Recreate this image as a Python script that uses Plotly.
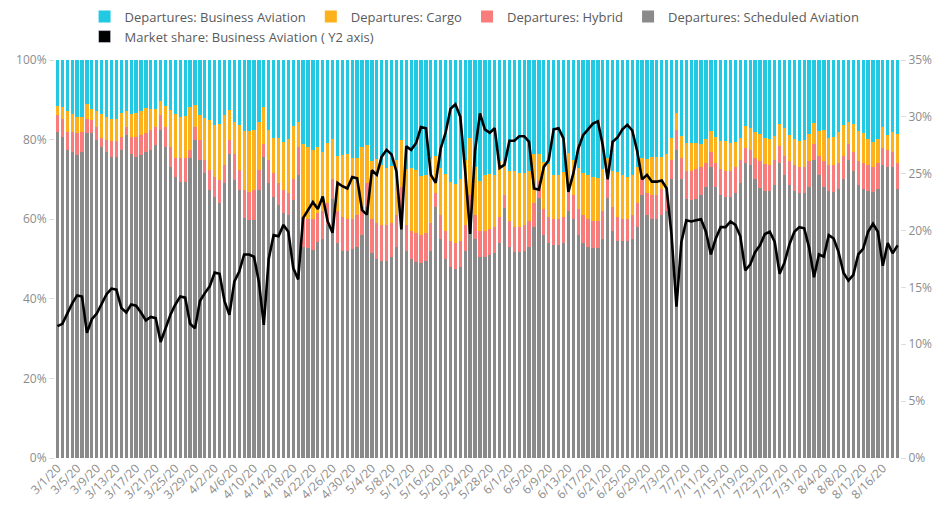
import pandas as pd
import plotly.graph_objects as go

# Daily categories: 3/1/2020 .. 8/19/2020
dates = pd.date_range("2020-03-01", "2020-08-19", freq="D")

# Departures share (%) per day
scheduled = [
    82.0, 80.7, 77.4, 77.0, 76.1, 77.0, 81.6, 81.6, 79.9, 78.2, 77.0, 75.7, 75.7, 77.4, 81.1, 76.5,
    75.7, 76.1, 77.0, 77.4, 78.6, 82.4, 78.2, 73.2, 70.7, 69.4, 69.4, 75.3, 79.9, 74.9, 71.5, 67.3,
    65.6, 64.0, 69.0, 76.5, 69.8, 67.3, 60.2, 59.8, 59.8, 67.3, 75.7, 69.0, 65.6, 63.6, 61.5, 61.0,
    64.8, 71.1, 53.1, 52.7, 52.3, 54.3, 55.0, 58.5, 65.0, 54.0, 52.0, 52.0, 52.5, 53.0, 56.0, 63.0,
    51.5, 50.0, 49.5, 49.5, 50.5, 53.0, 62.0, 52.0, 50.0, 49.3, 49.0, 49.5, 52.0, 63.0, 55.0, 50.0,
    48.0, 47.5, 48.0, 52.0, 60.2, 55.0, 50.5, 50.5, 51.0, 51.5, 54.0, 62.7, 53.0, 51.8, 51.8, 52.0,
    53.0, 58.0, 65.3, 56.0, 54.0, 53.5, 53.5, 54.0, 62.0, 60.0, 56.0, 54.0, 53.0, 52.7, 52.7, 55.0,
    65.3, 57.0, 54.5, 54.4, 54.4, 55.0, 58.0, 66.0, 61.0, 60.0, 60.0, 61.0, 62.0, 70.0, 77.4, 70.0,
    65.0, 64.8, 65.0, 66.0, 68.0, 73.2, 68.0, 66.0, 65.6, 65.6, 66.5, 69.0, 74.0, 73.6, 70.0, 67.8,
    67.0, 67.0, 68.5, 74.0, 71.0, 68.6, 67.0, 66.5, 66.5, 68.0, 75.0, 71.0, 68.0, 67.0, 66.8, 67.5,
    70.0, 75.0, 72.0, 68.5, 67.5, 67.0, 66.8, 67.5, 73.5, 73.0, 73.0, 67.5,
]
hybrid = [
    4.2, 4.6, 4.6, 5.0, 5.5, 5.0, 3.7, 3.3, 3.3, 2.3, 2.9, 4.0, 4.0, 3.3, 2.1, 4.2,
    5.0, 5.0, 4.6, 5.0, 4.6, 3.8, 5.0, 5.0, 4.6, 5.9, 5.9, 2.1, 3.3, 5.0, 3.4, 5.0,
    5.1, 5.8, 4.6, 3.4, 6.7, 5.0, 7.1, 7.1, 7.5, 5.0, 3.3, 5.9, 5.9, 5.4, 5.8, 5.5,
    5.2, 7.1, 7.5, 7.3, 7.7, 7.2, 7.0, 5.5, 5.0, 8.0, 8.5, 8.0, 7.5, 8.0, 7.0, 6.0,
    8.5, 9.0, 9.0, 9.0, 8.5, 8.0, 6.0, 6.5, 7.0, 7.2, 7.0, 7.0, 7.0, 3.5, 6.0, 7.0,
    6.5, 6.5, 6.5, 6.5, 5.8, 6.0, 6.5, 6.5, 6.5, 6.5, 6.5, 3.3, 6.5, 6.2, 6.2, 6.5,
    6.5, 6.0, 4.2, 6.5, 6.5, 6.5, 6.5, 6.5, 5.0, 6.0, 6.5, 7.0, 7.0, 6.8, 6.8, 7.0,
    4.7, 6.0, 6.0, 5.6, 5.6, 6.0, 6.0, 4.0, 5.5, 6.0, 6.0, 6.5, 6.0, 5.0, 5.0, 5.5,
    7.0, 7.2, 7.5, 7.0, 6.0, 3.8, 6.0, 6.5, 6.4, 6.4, 6.5, 6.0, 4.0, 3.9, 5.5, 6.7,
    6.8, 6.5, 6.5, 4.5, 5.0, 5.9, 6.5, 6.5, 6.5, 6.5, 4.0, 5.0, 6.5, 6.5, 6.7, 6.5,
    6.0, 4.0, 5.0, 6.0, 6.5, 6.5, 6.2, 6.5, 4.5, 4.5, 4.0, 6.5,
]
cargo = [
    2.2, 2.9, 5.3, 4.4, 4.1, 3.8, 3.7, 2.9, 4.1, 6.0, 5.7, 5.4, 5.5, 6.1, 4.0, 5.8,
    5.9, 6.1, 6.3, 5.2, 4.5, 3.6, 5.3, 9.2, 11.2, 10.5, 10.6, 10.8, 5.4, 6.3, 10.6, 12.6,
    13.0, 14.0, 12.6, 7.5, 8.0, 11.3, 14.8, 15.2, 15.0, 12.2, 9.3, 7.6, 8.9, 11.5, 12.2, 13.6,
    13.3, 6.1, 18.3, 18.2, 17.5, 16.6, 15.0, 15.2, 10.2, 13.8, 15.6, 16.3, 15.3, 14.4, 15.2, 9.6,
    14.7, 16.1, 15.0, 14.4, 14.3, 13.8, 11.9, 14.1, 15.9, 15.8, 14.9, 14.5, 16.1, 9.3, 11.8, 14.4,
    14.8, 14.9, 15.5, 16.3, 14.3, 12.0, 12.7, 14.1, 13.9, 13.0, 14.0, 8.2, 12.6, 14.1, 13.7, 13.2,
    12.7, 12.3, 6.9, 11.9, 13.3, 11.1, 11.0, 11.4, 9.6, 9.0, 10.3, 10.6, 11.1, 11.1, 10.9, 10.5,
    5.5, 9.2, 11.3, 11.1, 10.7, 10.2, 9.0, 5.5, 8.6, 9.7, 9.7, 8.1, 8.3, 5.4, 4.3, 5.5,
    7.1, 7.2, 6.6, 6.0, 6.1, 5.1, 6.7, 7.2, 7.7, 7.2, 6.5, 5.5, 5.5, 5.5, 6.4, 6.8,
    6.5, 6.6, 6.0, 5.3, 6.8, 6.7, 6.6, 6.7, 6.8, 7.0, 5.1, 6.1, 7.8, 6.9, 7.2, 7.9,
    7.7, 5.4, 6.9, 7.6, 7.6, 6.6, 6.4, 6.1, 5.1, 3.6, 5.0, 7.3,
]
business = [
    11.6, 11.8, 12.7, 13.6, 14.3, 14.2, 11.0, 12.2, 12.7, 13.5, 14.4, 14.9, 14.8, 13.2, 12.8, 13.5,
    13.4, 12.8, 12.1, 12.4, 12.3, 10.2, 11.5, 12.6, 13.5, 14.2, 14.1, 11.8, 11.4, 13.8, 14.5, 15.1,
    16.3, 16.2, 13.8, 12.6, 15.5, 16.4, 17.9, 17.9, 17.7, 15.5, 11.7, 17.5, 19.6, 19.5, 20.5, 19.9,
    16.7, 15.7, 21.1, 21.8, 22.5, 21.9, 23.0, 20.8, 19.8, 24.2, 23.9, 23.7, 24.7, 24.6, 21.8, 21.4,
    25.3, 24.9, 26.5, 27.1, 26.7, 25.2, 20.1, 27.4, 27.1, 27.7, 29.1, 29.0, 24.9, 24.2, 27.2, 28.6,
    30.7, 31.1, 30.0, 25.2, 19.7, 27.0, 30.3, 28.9, 28.6, 29.0, 25.5, 25.8, 27.9, 27.9, 28.3, 28.3,
    27.8, 23.7, 23.6, 25.6, 26.2, 28.9, 29.0, 28.1, 23.4, 25.0, 27.2, 28.4, 28.9, 29.4, 29.6, 27.5,
    24.5, 27.8, 28.2, 28.9, 29.3, 28.8, 27.0, 24.5, 24.9, 24.3, 24.3, 24.4, 23.7, 19.6, 13.3, 19.0,
    20.9, 20.8, 20.9, 21.0, 19.9, 17.9, 19.3, 20.3, 20.3, 20.8, 20.5, 19.5, 16.5, 17.0, 18.1, 18.7,
    19.7, 19.9, 19.0, 16.2, 17.2, 18.8, 19.9, 20.3, 20.2, 18.5, 15.9, 17.9, 17.7, 19.6, 19.3, 18.1,
    16.3, 15.6, 16.1, 17.9, 18.4, 19.9, 20.6, 19.9, 16.9, 18.9, 18.0, 18.7,
]
# Market share of business aviation (Y2 axis, %)
market_share = [
    11.6, 11.8, 12.7, 13.6, 14.3, 14.2, 11.0, 12.2, 12.7, 13.5, 14.4, 14.9, 14.8, 13.2, 12.8, 13.5,
    13.4, 12.8, 12.1, 12.4, 12.3, 10.2, 11.5, 12.6, 13.5, 14.2, 14.1, 11.8, 11.4, 13.8, 14.5, 15.1,
    16.3, 16.2, 13.8, 12.6, 15.5, 16.4, 17.9, 17.9, 17.7, 15.5, 11.7, 17.5, 19.6, 19.5, 20.5, 19.9,
    16.7, 15.7, 21.1, 21.8, 22.5, 21.9, 23.0, 20.8, 19.8, 24.2, 23.9, 23.7, 24.7, 24.6, 21.8, 21.4,
    25.3, 24.9, 26.5, 27.1, 26.7, 25.2, 20.1, 27.4, 27.1, 27.7, 29.1, 29.0, 24.9, 24.2, 27.2, 28.6,
    30.7, 31.1, 30.0, 25.2, 19.7, 27.0, 30.3, 28.9, 28.6, 29.0, 25.5, 25.8, 27.9, 27.9, 28.3, 28.3,
    27.8, 23.7, 23.6, 25.6, 26.2, 28.9, 29.0, 28.1, 23.4, 25.0, 27.2, 28.4, 28.9, 29.4, 29.6, 27.5,
    24.5, 27.8, 28.2, 28.9, 29.3, 28.8, 27.0, 24.5, 24.9, 24.3, 24.3, 24.4, 23.7, 19.6, 13.3, 19.0,
    20.9, 20.8, 20.9, 21.0, 19.9, 17.9, 19.3, 20.3, 20.3, 20.8, 20.5, 19.5, 16.5, 17.0, 18.1, 18.7,
    19.7, 19.9, 19.0, 16.2, 17.2, 18.8, 19.9, 20.3, 20.2, 18.5, 15.9, 17.9, 17.7, 19.6, 19.3, 18.1,
    16.3, 15.6, 16.1, 17.9, 18.4, 19.9, 20.6, 19.9, 16.9, 18.9, 18.0, 18.7,
]

y_ticks = [0, 20, 40, 60, 80, 100]
y2_ticks = [0, 5, 10, 15, 20, 25, 30, 35]

C_BA = "#22C9E2"
C_CARGO = "#FDB11B"
C_HYB = "#F97C7C"
C_SCHED = "#8A8A8A"

fig = go.Figure()
fig.add_bar(x=dates, y=scheduled, name="Departures: Scheduled Aviation",
            marker=dict(color=C_SCHED, line=dict(width=0)), legendrank=4)
fig.add_bar(x=dates, y=hybrid, name="Departures: Hybrid",
            marker=dict(color=C_HYB, line=dict(width=0)), legendrank=3)
fig.add_bar(x=dates, y=cargo, name="Departures: Cargo",
            marker=dict(color=C_CARGO, line=dict(width=0)), legendrank=2)
fig.add_bar(x=dates, y=business, name="Departures: Business Aviation",
            marker=dict(color=C_BA, line=dict(width=0)), legendrank=1)
fig.add_scatter(x=dates, y=market_share, yaxis="y2", mode="lines",
                line=dict(color="#000000", width=2.6), showlegend=False,
                name="Market share: Business Aviation ( Y2 axis)")
# legend entry (square symbol) for the line series, in a second legend row
fig.add_bar(x=[None], y=[None], name="Market share: Business Aviation ( Y2 axis)",
            marker=dict(color="#000000"), legend="legend2")

tick_font = dict(family="Open Sans, sans-serif", size=12, color="#8c8c8c")
legend_common = dict(orientation="h", x=0.035, xanchor="left", yanchor="top",
                     yref="container", traceorder="normal",
                     font=dict(size=13, color="#5a5a5a"),
                     itemclick=False, tracegroupgap=0, bgcolor="rgba(0,0,0,0)")
fig.update_layout(
    width=942, height=515,
    margin=dict(l=55, r=42, t=60, b=57, autoexpand=False),
    paper_bgcolor="white", plot_bgcolor="white",
    barmode="stack", barnorm="percent", bargap=0.33,
    font=dict(family="Open Sans, sans-serif", size=12, color="#5a5a5a"),
    showlegend=True,
    legend=dict(y=0.997, **legend_common),
    legend2=dict(y=0.958, **legend_common),
    xaxis=dict(type="date", tickformat="%-m/%-d/%y", tick0="2020-03-01",
               dtick=4 * 86400000, tickangle=-45, showgrid=False, zeroline=False,
               range=["2020-02-29 12:00", "2020-08-19 12:00"], tickfont=tick_font,
               ticks="", showline=False),
    yaxis=dict(range=[0, 100], tickvals=y_ticks, ticktext=[f"{v}%" for v in y_ticks],
               showgrid=False, zeroline=False, ticks="outside", ticklen=5,
               tickcolor="#dddddd", tickfont=tick_font, showline=False),
    yaxis2=dict(range=[0, 35], tickvals=y2_ticks, ticktext=[f"{v}%" for v in y2_ticks],
                overlaying="y", side="right", showgrid=False, zeroline=False,
                ticks="outside", ticklen=5, tickcolor="#dddddd", tickfont=tick_font,
                showline=False),
)

# remove the default page margin so the 942x515 figure fills the window
fig.write_html("out.html", config={"displayModeBar": False},
               post_script="document.body.style.margin='0px';")
